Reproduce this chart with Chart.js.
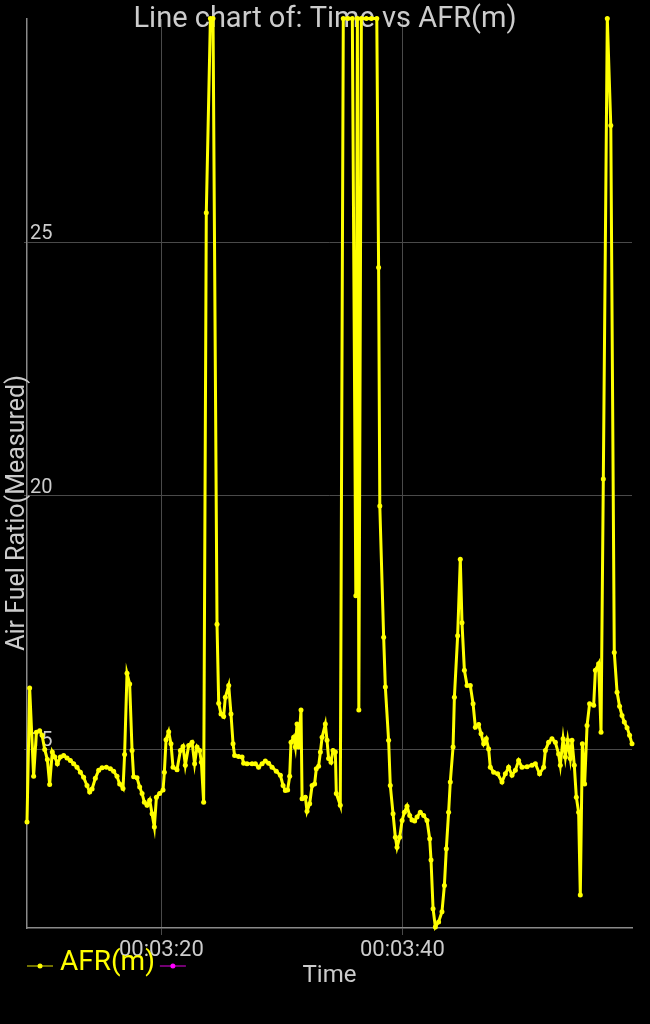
<!DOCTYPE html>
<html>
<head>
<meta charset="utf-8">
<script src="https://cdn.jsdelivr.net/npm/chart.js@4.4.1/dist/chart.umd.min.js"></script>
<style>
  html, body { margin: 0; padding: 0; background: #000; }
  #wrap { width: 650px; height: 1024px; position: relative; }
</style>
</head>
<body>
<div id="wrap"><canvas id="chartCanvas"></canvas></div>
<script>
// seconds after 00:03:00
const times = [
  8.85, 9.07, 9.40, 9.63, 9.90, 10.10, 10.32, 10.54, 10.73, 10.95,
  11.16, 11.37, 11.62, 11.89, 12.17, 12.45, 12.72, 13.00, 13.28, 13.55,
  13.83, 14.05, 14.25, 14.52, 14.80, 15.08, 15.44, 15.77, 16.04, 16.32,
  16.54, 16.82, 16.95, 17.15, 17.37, 17.57, 17.70, 17.98, 18.20, 18.40,
  18.59, 18.81, 19.03, 19.23, 19.42, 19.59, 19.86, 20.14, 20.25, 20.39,
  20.61, 20.80, 20.97, 21.30, 21.58, 21.80, 21.99, 22.27, 22.55, 22.76,
  22.96, 23.18, 23.32, 23.51, 23.73, 24.07, 24.29, 24.62, 24.76, 24.95,
  25.17, 25.31, 25.59, 25.78, 25.95, 26.08, 26.41, 26.70, 26.83, 27.11,
  27.53, 27.80, 28.07, 28.36, 28.63, 28.90, 29.19, 29.54, 29.88, 30.10,
  30.29, 30.48, 30.65, 30.76, 30.98, 31.12, 31.26, 31.39, 31.59, 31.68,
  31.95, 32.09, 32.31, 32.51, 32.72, 32.86, 33.05, 33.20, 33.34, 33.61,
  33.75, 33.88, 34.08, 34.25, 34.44, 34.52, 34.85, 35.10, 35.48, 35.85,
  36.14, 36.27, 36.39, 36.60, 37.01, 37.43, 37.88, 38.03, 38.13, 38.45,
  38.59, 38.86, 39.00, 39.23, 39.42, 39.56, 39.78, 39.98, 40.17, 40.39,
  40.61, 40.80, 41.02, 41.22, 41.49, 41.77, 42.05, 42.27, 42.38, 42.55,
  42.74, 43.01, 43.29, 43.49, 43.65, 43.84, 43.98, 44.21, 44.32, 44.59,
  44.81, 44.95, 45.15, 45.37, 45.64, 45.87, 46.06, 46.33, 46.53, 46.75,
  46.97, 47.16, 47.30, 47.58, 47.91, 48.27, 48.55, 48.82, 49.10, 49.38,
  49.65, 49.93, 50.35, 50.76, 51.04, 51.39, 51.73, 51.87, 52.14, 52.42,
  52.70, 52.97, 53.11, 53.34, 53.53, 53.72, 53.94, 54.08, 54.27, 54.44,
  54.63, 54.77, 54.94, 55.13, 55.33, 55.54, 55.88, 56.02, 56.29, 56.49,
  56.68, 57.01, 57.30, 57.59, 57.82, 58.03, 58.23, 58.42, 58.65, 58.86,
  59.06
];

const afr = [
  13.57, 16.21, 14.47, 15.34, 15.37, 15.28, 15.00, 14.80, 14.31, 14.95,
  14.85, 14.72, 14.85, 14.88, 14.83, 14.78, 14.72, 14.65, 14.55, 14.45,
  14.29, 14.16, 14.22, 14.43, 14.59, 14.64, 14.65, 14.62, 14.57, 14.47,
  14.32, 14.23, 14.90, 16.50, 16.29, 14.98, 14.46, 14.44, 14.26, 14.13,
  13.96, 13.90, 14.00, 13.73, 13.47, 14.06, 14.13, 14.20, 14.55, 15.19,
  15.35, 15.11, 14.65, 14.60, 14.98, 15.06, 14.69, 15.08, 15.14, 14.72,
  15.05, 14.98, 14.75, 13.96, 25.58, 29.41, 29.41, 17.47, 15.91, 15.70,
  15.65, 16.03, 16.26, 15.70, 15.11, 14.88, 14.86, 14.85, 14.73, 14.72,
  14.72, 14.72, 14.65, 14.72, 14.77, 14.73, 14.65, 14.57, 14.49, 14.29,
  14.19, 14.20, 14.47, 15.14, 15.24, 15.05, 15.50, 15.05, 15.78, 14.03,
  14.06, 13.78, 13.93, 14.29, 14.32, 14.62, 14.67, 14.95, 15.24, 15.50,
  15.18, 14.82, 14.75, 14.98, 14.95, 14.13, 13.90, 29.41, 29.41, 29.41,
  18.03, 29.41, 15.78, 29.41, 29.41, 29.41, 29.41, 24.50, 19.80, 17.21,
  16.23, 15.18, 14.29, 13.73, 13.27, 13.07, 13.27, 13.60, 13.76, 13.88,
  13.70, 13.61, 13.59, 13.67, 13.76, 13.70, 13.60, 13.24, 12.82, 11.86,
  11.50, 11.60, 11.80, 12.32, 13.04, 13.76, 14.36, 15.05, 16.03, 17.24,
  18.75, 17.50, 16.56, 16.26, 16.26, 15.90, 15.44, 15.49, 15.31, 15.11,
  15.21, 15.01, 14.65, 14.55, 14.52, 14.36, 14.52, 14.65, 14.49, 14.59,
  14.78, 14.65, 14.66, 14.69, 14.72, 14.52, 14.65, 14.98, 15.14, 15.21,
  15.14, 14.91, 14.69, 15.21, 14.85, 15.18, 14.82, 15.18, 14.69, 14.06,
  13.76, 12.13, 15.11, 14.32, 15.47, 15.90, 15.87, 16.56, 16.69, 15.34,
  20.33, 29.41, 27.30, 16.91, 16.13, 15.85, 15.67, 15.54, 15.43, 15.28,
  15.11
];

const seriesLabels = ['AFR(m)', ''];
const xTicks = [20, 40];
const yTicks = [15, 20, 25];
const chartTitle = 'Line chart of: Time vs AFR(m)';
const xTitle = 'Time';
const yTitle = 'Air Fuel Ratio(Measured)';

const TEXT = '#cccccc';
const YELLOW = '#ffff00';
const MAGENTA = '#ff00ff';

function pad2(n) {
  return String(Math.round(n)).padStart(2, '0');
}

// title + y title sit over the plot, legend sits on the x axis area
const overlay = {
  id: 'overlay',
  beforeDatasetsDraw(chart) {
    const ctx = chart.ctx;
    ctx.save();
    ctx.fillStyle = TEXT;
    ctx.textAlign = 'center';
    ctx.textBaseline = 'middle';
    ctx.font = '29px Roboto';
    ctx.fillText(chartTitle, chart.width / 2, 20);
    ctx.translate(18, 513);
    ctx.rotate(-Math.PI / 2);
    ctx.font = '25px Roboto';
    ctx.fillText(yTitle, 0, 0);
    ctx.restore();
  },
  afterDraw(chart) {
    const ctx = chart.ctx;
    const y = 966;
    let x = 27;
    ctx.save();
    ctx.font = '28px Roboto';
    ctx.textBaseline = 'middle';
    chart.data.datasets.forEach(ds => {
      ctx.globalAlpha = 0.6;
      ctx.strokeStyle = ds.borderColor;
      ctx.lineWidth = 1.5;
      ctx.beginPath();
      ctx.moveTo(x, y);
      ctx.lineTo(x + 26, y);
      ctx.stroke();
      ctx.globalAlpha = 1;
      ctx.fillStyle = ds.borderColor;
      ctx.beginPath();
      ctx.arc(x + 13, y, 2.5, 0, Math.PI * 2);
      ctx.fill();
      x += 33;
      if (ds.label) {
        ctx.fillText(ds.label, x, y - 3);
        x += ctx.measureText(ds.label).width + 5;
      }
    });
    ctx.restore();
  }
};

const ctx = document.getElementById('chartCanvas').getContext('2d');
new Chart(ctx, {
  type: 'line',
  data: {
    datasets: [
      {
        label: seriesLabels[0],
        data: times.map((t, i) => ({ x: t, y: afr[i] })),
        borderColor: YELLOW,
        backgroundColor: YELLOW,
        borderWidth: 3,
        pointRadius: 2.5,
        pointBorderWidth: 0,
        pointBackgroundColor: YELLOW,
        tension: 0,
        clip: false,
      },
      {
        label: seriesLabels[1],
        data: [],
        borderColor: MAGENTA,
        backgroundColor: MAGENTA,
      },
    ],
  },
  options: {
    responsive: true,
    maintainAspectRatio: false,
    animation: false,
    layout: { padding: { top: 18, right: 18, left: 0, bottom: 0 } },
    plugins: {
      legend: { display: false },
      title: { display: false },
      tooltip: { enabled: false },
    },
    scales: {
      x: {
        type: 'linear',
        min: Math.min(...times),
        max: Math.max(...times),
        afterFit: s => { s.height = 96; },
        afterBuildTicks: s => { s.ticks = xTicks.map(v => ({ value: v })); },
        grid: { color: '#4a4a4a', lineWidth: 1, tickLength: 7, tickColor: '#4a4a4a' },
        border: { color: '#8a8a8a', width: 1.5 },
        ticks: {
          color: TEXT,
          font: { family: 'Roboto', size: 22 },
          padding: 2,
          maxRotation: 0,
          callback: v => '00:03:' + pad2(v),
        },
        title: {
          display: true,
          text: xTitle,
          color: TEXT,
          font: { family: 'Roboto', size: 24 },
          padding: { top: 0, bottom: 34 },
        },
      },
      y: {
        min: 11.48,
        max: 29.4,
        afterFit: s => { s.width = 27; },
        afterBuildTicks: s => { s.ticks = yTicks.map(v => ({ value: v })); },
        grid: { color: '#4a4a4a', lineWidth: 1, tickLength: 3, tickColor: '#4a4a4a' },
        border: { color: '#8a8a8a', width: 1.5 },
        ticks: {
          mirror: true,
          color: TEXT,
          font: { family: 'Roboto', size: 20, lineHeight: 0.8 },
          padding: 3,
          callback: v => [String(v), ''],
        },
      },
    },
  },
  plugins: [overlay],
});
</script>
</body>
</html>
